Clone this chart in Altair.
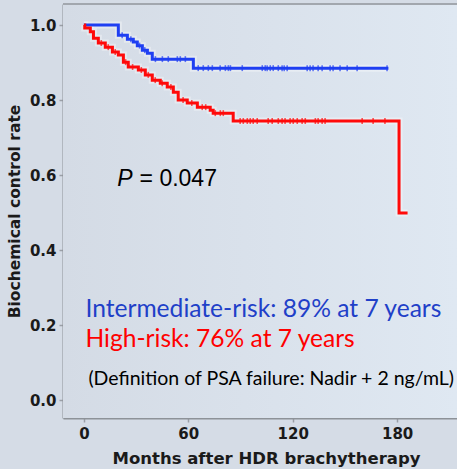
import altair as alt
import pandas as pd

# ---- Kaplan-Meier step data (months, biochemical control rate) ----
blue_t = [0, 19.8, 25.0, 28.4, 30.7, 33.6, 36.5, 39.3, 62.9, 175.0]
blue_s = [1.0, 0.973, 0.962, 0.955, 0.945, 0.933, 0.925, 0.909, 0.885, 0.885]
red_t = [0, 0.5, 3.7, 5.5, 8.3, 12.3, 16.4, 19.8, 22.7, 25.5, 31.3, 35.3, 39.3,
         43.9, 47.9, 51.4, 54.2, 59.4, 65.2, 72.6, 74.3, 85.8, 181.1, 186.0]
red_s = [1.0, 0.992, 0.982, 0.965, 0.952, 0.941, 0.928, 0.920, 0.901, 0.888, 0.880,
         0.867, 0.853, 0.845, 0.835, 0.821, 0.800, 0.792, 0.781, 0.773, 0.765, 0.744,
         0.499, 0.499]

# censoring marks (months)
blue_cens = [22.0, 27.0, 32.0, 35.0, 41.1, 45.1, 48.5, 53.7, 55.4, 58.3, 65.7, 68.6,
             71.5, 73.8, 78.3, 81.3, 83.0, 84.2, 91.0, 102.5, 104.2, 105.3, 107.1,
             108.8, 111.7, 113.9, 115.1, 116.8, 128.3, 130.0, 131.7, 134.6, 136.9,
             141.5, 143.2, 147.2, 151.3, 157.0, 174.2]
red_cens = [10.0, 14.0, 18.0, 24.0, 28.0, 33.0, 37.0, 41.0, 45.0, 50.0, 57.0, 62.0,
            68.0, 70.0, 75.5, 78.4, 80.1, 89.8, 91.6, 93.9, 95.6, 97.3, 99.6, 105.9,
            108.2, 111.7, 113.9, 115.6, 118.5, 120.3, 122.6, 125.4, 127.2, 133.0,
            134.6, 136.9, 138.6, 159.9, 166.2, 173.0]

groups = ["Intermediate-risk", "High-risk"]
line_colors = ["#1f3ff2", "#ff0a0a"]

x_ticks = [0, 60, 120, 180]
y_ticks = [0.0, 0.2, 0.4, 0.6, 0.8, 1.0]


def km_at(ts, ss, t):
    v = ss[0]
    for ti, si in zip(ts, ss):
        if ti <= t:
            v = si
    return v


lines = pd.concat([
    pd.DataFrame({"t": blue_t, "s": blue_s, "g": groups[0]}),
    pd.DataFrame({"t": red_t, "s": red_s, "g": groups[1]}),
])
cens = pd.concat([
    pd.DataFrame({"t": blue_cens, "s": [km_at(blue_t, blue_s, c) for c in blue_cens], "g": groups[0]}),
    pd.DataFrame({"t": red_cens, "s": [km_at(red_t, red_s, c) for c in red_cens], "g": groups[1]}),
])

xs = alt.Scale(domain=[-12, 214.4], nice=False, zero=False)
ys = alt.Scale(domain=[-0.048, 1.056], nice=False, zero=False)
cs = alt.Scale(domain=groups, range=line_colors)

X = alt.X("t:Q", scale=xs,
          axis=alt.Axis(values=x_ticks, title="Months after HDR brachytherapy", grid=False,
                        titleX=203))
Y = alt.Y("s:Q", scale=ys,
          axis=alt.Axis(values=y_ticks, format=".1f", title="Biochemical control rate", grid=False))

bg = alt.Chart(pd.DataFrame({"k": [0]})).mark_rect(
    color=alt.Gradient(gradient="linear", x1=0, y1=0, x2=1, y2=0,
                       stops=[alt.GradientStop(offset=0, color="#d4dbe5"),
                              alt.GradientStop(offset=1, color="#dfe8f2")])
).encode(x=alt.value(0), x2=alt.value(394), y=alt.value(0), y2=alt.value(414))

halo = alt.Chart(lines).mark_line(interpolate="step-after", strokeWidth=7, color="white",
                                  opacity=0.35).encode(
    x=X, y=Y, detail="g:N", order="t:Q")

km = alt.Chart(lines).mark_line(interpolate="step-after", strokeWidth=3).encode(
    x=X, y=Y, color=alt.Color("g:N", scale=cs, legend=None), order="t:Q")

ticks = alt.Chart(cens).mark_tick(orient="vertical", size=6, thickness=1.6).encode(
    x=X, y=Y, color=alt.Color("g:N", scale=cs, legend=None))

top_line = alt.Chart(lines).mark_rule(color="#a2a7ae", strokeWidth=1.5).encode(
    x=alt.value(0), x2=alt.value(394), y=alt.value(0))

# ---- annotations ----
p_label = pd.DataFrame({"t": [19.2], "s": [0.571], "txt": ["P"]})
p_value = pd.DataFrame({"t": [32.0], "s": [0.571], "txt": ["= 0.047"]})
legend_df = pd.DataFrame({
    "t": [0.9, 0.9],
    "s": [0.221, 0.141],
    "txt": ["Intermediate-risk: 89% at 7 years", "High-risk: 76% at 7 years"],
    "g": groups,
})
def_df = pd.DataFrame({"t": [2.6], "s": [0.040],
                       "txt": ["(Definition of PSA failure: Nadir + 2 ng/mL)"]})

p1 = alt.Chart(p_label).mark_text(align="left", baseline="alphabetic", fontSize=23,
                                  font="Liberation Sans", fontStyle="italic", color="#000000").encode(
    x=X, y=Y, text="txt:N")
p2 = alt.Chart(p_value).mark_text(align="left", baseline="alphabetic", fontSize=23,
                                  font="Liberation Sans", color="#000000").encode(
    x=X, y=Y, text="txt:N")
leg = alt.Chart(legend_df).mark_text(align="left", baseline="alphabetic", fontSize=24.6,
                                     font="Lato").encode(
    x=X, y=Y, text="txt:N",
    color=alt.Color("g:N", scale=alt.Scale(domain=groups, range=["#1f40c8", "#ff0000"]), legend=None))
defn = alt.Chart(def_df).mark_text(align="left", baseline="alphabetic", fontSize=19.5,
                                   font="Lato", color="#000000").encode(
    x=X, y=Y, text="txt:N")

chart = alt.layer(bg, halo, km, ticks, top_line, p1, p2, leg, defn).resolve_scale(
    color="independent"
).properties(
    width=394, height=414,
    autosize=alt.AutoSizeParams(type="none"),
    padding={"left": 63, "top": 4, "right": 0, "bottom": 51},
    background="#d5dce6",
).configure_view(
    stroke=None,
).configure_axis(
    domainColor="#8d9298", domainWidth=2,
    tickColor="#9a9fa6", tickSize=4, tickWidth=1.5,
    labelFont="DejaVu Sans", labelFontWeight="bold", labelFontSize=15, labelColor="#1a1a1a",
    titleFont="DejaVu Sans", titleFontWeight="bold", titleFontSize=15.5, titleColor="#1a1a1a",
).configure_axisX(
    labelPadding=4, titlePadding=9, titleFontSize=16.5,
).configure_axisY(
    labelPadding=3, titlePadding=7,
)

chart.save("out.html", embed_options={"renderer": "svg", "actions": False})
